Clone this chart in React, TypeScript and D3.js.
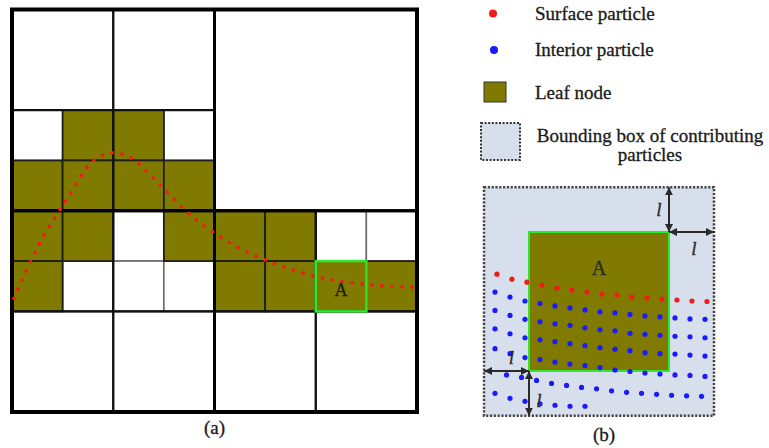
import React from "react";
import * as d3 from "d3";

const W = 769;
const H = 448;

const OLIVE = "#807a00";
const GREEN = "#2ee82e";
const RED = "#f01c1c";
const BLUE = "#1a1aff";
const BOX_FILL = "#d6dfeb";
const SERIF = "'Liberation Serif', 'Times New Roman', serif";

// ---- panel (a): quadtree, in level-3 cell units (8 x 8) ----
const quadrants = [[0, 0], [4, 0], [0, 4], [4, 4]];
const level2Nodes = [
  [0, 0], [2, 0], [0, 2], [2, 2],
  [0, 4], [2, 4], [0, 6], [2, 6],
  [4, 4], [6, 4], [4, 6], [6, 6],
];
// [col, row, isLeafNode]
const level3Cells = [
  [0, 2, 0], [1, 2, 1], [2, 2, 1], [3, 2, 0],
  [0, 3, 1], [1, 3, 1], [2, 3, 1], [3, 3, 1],
  [0, 4, 1], [1, 4, 1], [2, 4, 0], [3, 4, 1],
  [0, 5, 1], [1, 5, 0], [2, 5, 0], [3, 5, 0],
  [4, 4, 1], [5, 4, 1], [6, 4, 0], [7, 4, 0],
  [4, 5, 1], [5, 5, 1], [6, 5, 1], [7, 5, 1],
];
const nodeA = [6, 5];
// surface line through the grid
const surfaceCurve = [
  [0.04, 5.74], [0.57, 4.6], [1.11, 3.73], [1.58, 3.03], [1.96, 2.85],
  [2.35, 2.95], [2.81, 3.37], [3.56, 4.11], [4.41, 4.7], [5.16, 5.04],
  [6.15, 5.34], [7.17, 5.48], [8.0, 5.52],
];

// ---- panel (b): local units, leaf node A spans 0..28 ----
const cellSize = 28;
const lMargin = 9;
const colStart = -6.8;
const colStep = 3;
const surfaceStart = 0.13;
const surfaceY = [8.5, 9.5, 10.1, 10.7, 11.3, 11.7, 12.1, 12.5, 12.7, 13.1, 13.3, 13.5, 13.7, 13.9, 14.0];
const interiorRows = [
  { start: 0, y: [12.1, 13.1, 13.9, 14.4, 14.9, 15.3, 15.7, 16.1, 16.3, 16.6, 16.9, 17.1, 17.3, 17.5, 17.6] },
  { start: 0, y: [15.8, 16.8, 17.6, 18.1, 18.5, 18.8, 19.3, 19.7, 19.9, 20.4, 20.6, 20.8, 21.0, 21.1, 21.3] },
  { start: 0, y: [19.5, 20.5, 21.3, 21.7, 22.1, 22.5, 22.9, 23.3, 23.6, 23.9, 24.3, 24.5, 24.6, 24.8, 25.0] },
  { start: 0, y: [23.5, 24.5, 25.3, 25.7, 26.2, 26.6, 26.9, 27.3, 27.8, 28.1, 28.4, 28.6, 28.8, 28.9, 29.1] },
  { start: 0.77, y: [28.8, 29.3, 29.9, 30.5, 30.9, 31.3, 31.6, 32.0, 32.3, 32.5, 32.7, 32.9, 33.0, 33.1] },
  { start: 0, y: [32.5, 33.5, 34.1, 34.6, 34.9, 35.1, 35.1] },
];

const legendItems = ["Surface particle", "Interior particle", "Leaf node"];

export default function App() {
  const gx = d3.scaleLinear().domain([0, 8]).range([12, 417]);
  const gy = d3.scaleLinear().domain([0, 8]).range([9.5, 412]);
  const bx = d3.scaleLinear().domain([0, cellSize]).range([529, 669]);
  const by = d3.scaleLinear().domain([0, cellSize]).range([232, 371]);
  const colX = (i: number) => bx(colStart + colStep * i);

  const curvePath = d3
    .line<number[]>()
    .x((d) => gx(d[0]))
    .y((d) => gy(d[1]))
    .curve(d3.curveCatmullRom.alpha(0.5))(surfaceCurve) || "";

  const cw = gx(1) - gx(0);
  const ch = gy(1) - gy(0);

  const box = {
    x0: bx(-lMargin), x1: bx(cellSize + lMargin),
    y0: by(-lMargin), y1: by(cellSize + lMargin),
  };

  const arrows = [
    [[cellSize, -lMargin], [cellSize, 0]],
    [[cellSize, 0], [cellSize + lMargin, 0]],
    [[-lMargin, cellSize], [0, cellSize]],
    [[0, cellSize], [0, cellSize + lMargin]],
  ];
  const arrowLabels = [
    [cellSize - 2, -lMargin / 2],
    [cellSize + lMargin / 2 + 0.5, 3.4],
    [-lMargin / 2 + 1, cellSize - 2.6],
    [2, cellSize + lMargin / 2 + 1.5],
  ];

  // white cells first (grey edges), leaf nodes on top (dark edges)
  const cellsOrdered = [...level3Cells].sort((a, b) => a[2] - b[2]);

  return (
    <svg width={W} height={H} style={{ position: "absolute", left: 0, top: 0, background: "#fff" }}>
      <defs>
        <marker id="ah" viewBox="0 0 10 10" refX="10" refY="5" markerWidth="4" markerHeight="4"
          orient="auto-start-reverse">
          <path d="M0,0 L10,5 L0,10 z" fill="#2a2a2a" />
        </marker>
      </defs>

      {/* panel (a) */}
      <g>
        {cellsOrdered.map(([c, r, leaf], i) => (
          <rect key={"c" + i} x={gx(c)} y={gy(r)} width={cw} height={ch}
            fill={leaf ? OLIVE : "#fff"} stroke={leaf ? "#1e1e1e" : "#666"}
            strokeWidth={leaf ? 1.8 : 1.5} />
        ))}
        {level2Nodes.map(([c, r], i) => (
          <rect key={"l2" + i} x={gx(c)} y={gy(r)} width={cw * 2} height={ch * 2}
            fill="none" stroke="#111" strokeWidth={2} />
        ))}
        {quadrants.map(([c, r], i) => (
          <rect key={"q" + i} x={gx(c)} y={gy(r)} width={cw * 4} height={ch * 4}
            fill="none" stroke="#000" strokeWidth={3} />
        ))}
        <rect x={gx(0)} y={gy(0)} width={gx(8) - gx(0)} height={gy(8) - gy(0)}
          fill="none" stroke="#000" strokeWidth={4} />
        <rect x={gx(nodeA[0])} y={gy(nodeA[1])} width={cw} height={ch}
          fill="none" stroke={GREEN} strokeWidth={2.5} />
        <text x={gx(nodeA[0] + 0.5)} y={gy(nodeA[1] + 0.5) + 10} textAnchor="middle"
          fontFamily={SERIF} fontSize={18} fill="#1e1e1e" stroke="#1e1e1e" strokeWidth={0.3}>A</text>
        <path d={curvePath} fill="none" stroke={RED} strokeWidth={3.8}
          strokeLinecap="round" strokeDasharray="0 10" />
        <text x={gx(4)} y={434} textAnchor="middle" fontFamily={SERIF} fontSize={19}
          fill="#1a1a1a" stroke="#1a1a1a" strokeWidth={0.3}>(a)</text>
      </g>

      {/* legend */}
      <g fontFamily={SERIF} fontSize={19} fill="#1a1a1a" stroke="#1a1a1a" strokeWidth={0.3}>
        <circle cx={493} cy={13.5} r={4} fill={RED} stroke="none" />
        <circle cx={494} cy={50} r={4} fill={BLUE} stroke="none" />
        <rect x={484} y={82} width={22} height={20} fill={OLIVE} stroke="#333" strokeWidth={1} />
        <rect x={481} y={123} width={39} height={37} fill={BOX_FILL} stroke="#333"
          strokeWidth={2} strokeDasharray="2 1.6" />
        {legendItems.map((t, i) => (
          <text key={t} x={535} y={[20, 56, 99][i]}>{t}</text>
        ))}
        <text x={650} y={142} textAnchor="middle">Bounding box of contributing</text>
        <text x={650} y={161} textAnchor="middle">particles</text>
      </g>

      {/* panel (b) */}
      <g>
        <rect x={box.x0} y={box.y0} width={box.x1 - box.x0} height={box.y1 - box.y0}
          fill={BOX_FILL} stroke="#444" strokeWidth={2.5} strokeDasharray="2.2 1.6" />
        <rect x={bx(0)} y={by(0)} width={bx(cellSize) - bx(0)} height={by(cellSize) - by(0)}
          fill={OLIVE} stroke={GREEN} strokeWidth={2} />
        <text x={bx(cellSize / 2)} y={by(8.6)} textAnchor="middle" fontFamily={SERIF}
          fontSize={20} fill="#2a2a2a" stroke="#2a2a2a" strokeWidth={0.3}>A</text>
        {surfaceY.map((y, i) => (
          <circle key={"s" + i} cx={colX(surfaceStart + i)} cy={by(y)} r={2.6} fill={RED} />
        ))}
        {interiorRows.map((row, ri) =>
          row.y.map((y, i) => (
            <circle key={"b" + ri + "-" + i} cx={colX(row.start + i)} cy={by(y)} r={2.6} fill={BLUE} />
          ))
        )}
        {arrows.map(([a, b], i) => (
          <line key={"a" + i} x1={bx(a[0])} y1={by(a[1])} x2={bx(b[0])} y2={by(b[1])}
            stroke="#2a2a2a" strokeWidth={2} markerStart="url(#ah)" markerEnd="url(#ah)" />
        ))}
        {arrowLabels.map(([x, y], i) => (
          <text key={"l" + i} x={bx(x)} y={by(y) + 6} textAnchor="middle" fontFamily={SERIF}
            fontStyle="italic" fontSize={19} fill="#2a2a2a" stroke="#2a2a2a" strokeWidth={0.3}>l</text>
        ))}
        <text x={bx(cellSize / 2) + 5} y={441} textAnchor="middle" fontFamily={SERIF}
          fontSize={19} fill="#1a1a1a" stroke="#1a1a1a" strokeWidth={0.3}>(b)</text>
      </g>
    </svg>
  );
}
